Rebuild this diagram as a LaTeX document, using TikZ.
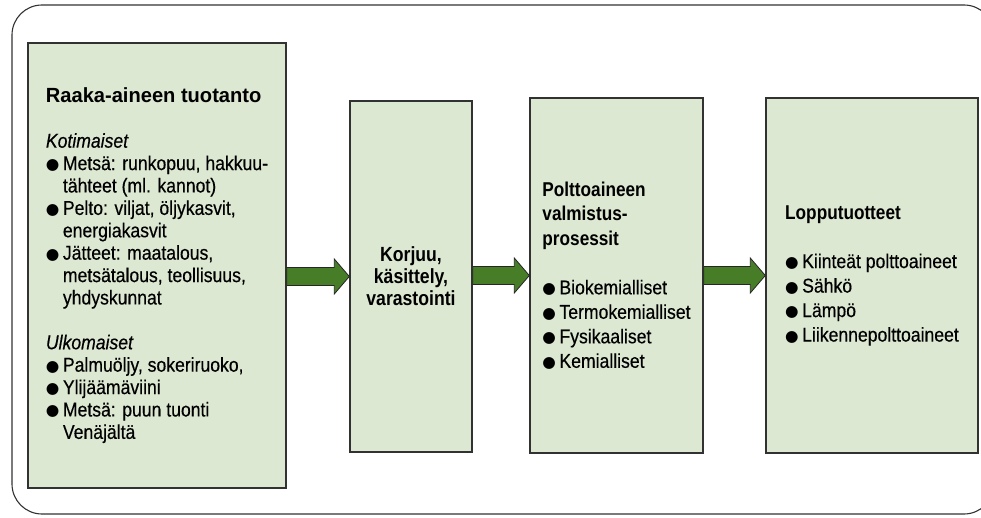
\documentclass[tikz,border=0pt]{standalone}
\usepackage{fontspec}
\setmainfont{Liberation Sans}[FakeStretch=0.88,FakeBold=0.35,BoldFeatures={FakeStretch=0.86,FakeBold=0}]
\newfontfamily\symfont{DejaVu Sans}
\newfontface\titlebold{Liberation Sans Bold}[FakeStretch=0.98]
\usetikzlibrary{calc}

\definecolor{boxgreen}{RGB}{220,232,209}
\definecolor{arrowgreen}{RGB}{72,125,40}
\definecolor{lineGray}{RGB}{50,50,50}

% bullet and continuation indent for the box texts
\newcommand{\blt}{\makebox[17pt][l]{\raisebox{0.5pt}{\fontsize{15.5}{15.5}\selectfont\symfont\char"25CF}}}
\newcommand{\cont}{\hspace*{17pt}}

% block arrow from the east side of #1 to the west side of #2
\newcommand{\flowarrow}[2]{%
  \draw[flowArrow] let \p1=(#1.east), \p2=(#2.west) in
    (\x1,\y2+9pt) -- (\x2-15pt,\y2+9pt) -- (\x2-15pt,\y2+17.5pt) -- (\x2,\y2)
    -- (\x2-15pt,\y2-17.5pt) -- (\x2-15pt,\y2-9pt) -- (\x1,\y2-9pt) -- cycle;}

\begin{document}
\begin{tikzpicture}[x=1pt,y=-1pt]

\tikzstyle{stage}=[rectangle,draw=lineGray,line width=1.4pt,fill=boxgreen,inner sep=0pt,align=left]
\tikzstyle{stageText}=[font=\fontsize{20}{24.5}\selectfont]
\tikzstyle{flowArrow}=[fill=arrowgreen,draw=black!85,line width=0.8pt]

\useasboundingbox (0,0) rectangle (981,518);

%Outer frame
\draw[lineGray,line width=1.1pt,rounded corners=30pt] (12,5) rectangle (994,514);

%Stages
\node[stage,minimum width=258pt,minimum height=445pt,font=\fontsize{20}{22.4}\selectfont] (raaka) at (157,265.5) {%
{\titlebold\fontsize{20.5}{22.4}\selectfont Raaka-aineen tuotanto}\\[22.4pt]
\textit{Kotimaiset}\\
\blt Metsä: runkopuu, hakkuu-\\
\cont tähteet (ml. kannot)\\
\blt Pelto: viljat, öljykasvit,\\
\cont energiakasvit\\
\blt Jätteet: maatalous,\\
\cont metsätalous, teollisuus,\\
\cont yhdyskunnat\\[22.4pt]
\textit{Ulkomaiset}\\
\blt Palmuöljy, sokeriruoko,\\
\blt Ylijäämäviini\\
\blt Metsä: puun tuonti\\
\cont Venäjältä};

\node[stage,align=center,minimum width=122pt,minimum height=351pt,font=\fontsize{20.5}{22}\selectfont\bfseries] (korjuu) at (411,276.5) {%
Korjuu,\\käsittely,\\varastointi};

\node[stage,stageText,minimum width=173pt,minimum height=355pt] (valmistus) at (616.5,275.5) {%
\textbf{Polttoaineen}\\
\textbf{valmistus-}\\
\textbf{prosessit}\\[24.5pt]
\blt Biokemialliset\\
\blt Termokemialliset\\
\blt Fysikaaliset\\
\blt Kemialliset};

\node[stage,stageText,minimum width=212pt,minimum height=355pt] (loppu) at (872,275.5) {%
\textbf{Lopputuotteet}\\[24.5pt]
\blt Kiinteät polttoaineet\\
\blt Sähkö\\
\blt Lämpö\\
\blt Liikennepolttoaineet};

%Arrows between stages
\flowarrow{raaka}{korjuu}
\flowarrow{korjuu}{valmistus}
\flowarrow{valmistus}{loppu}

\end{tikzpicture}
\end{document}
